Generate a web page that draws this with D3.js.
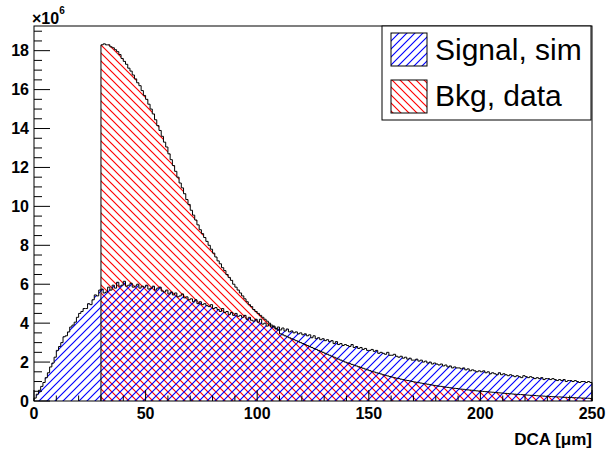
<!DOCTYPE html>
<html><head><meta charset="utf-8">
<script src="https://cdn.jsdelivr.net/npm/d3@7"></script>
<style>body{margin:0;background:#fff}svg{display:block}</style>
</head><body>
<svg id="c" width="608" height="455"></svg>
<script>
// DCA bins: 1 µm wide, 0..250 µm
const binLow = 0, binWidth = 1;
// Signal (sim), values in 1e6, bins 0..249
const signal = [
0.15,0.35,0.55,0.75,0.95,1.2,1.45,1.75,1.95,2.25,
2.6,2.8,3.0,3.3,3.35,3.55,3.8,3.9,4.05,4.3,
4.5,4.6,4.75,4.75,5.0,4.95,5.2,5.45,5.4,5.7,
5.75,5.55,5.6,5.85,5.7,5.95,5.8,6.1,5.9,5.95,
6.15,5.9,5.95,6.05,5.85,5.9,6.0,5.8,5.9,5.85,
5.95,5.75,5.8,5.9,5.7,5.8,5.85,5.65,5.6,5.7,
5.5,5.6,5.45,5.55,5.35,5.4,5.5,5.3,5.35,5.2,
5.25,5.1,5.2,5.0,5.1,4.95,5.0,4.9,4.85,4.95,
4.75,4.8,4.7,4.6,4.75,4.55,4.6,4.45,4.55,4.4,
4.5,4.35,4.4,4.3,4.4,4.2,4.3,4.15,4.1,4.2,
4.05,4.2,3.95,4.0,3.85,3.95,3.8,3.85,3.7,3.8,
3.65,3.75,3.6,3.7,3.55,3.6,3.5,3.55,3.45,3.5,
3.4,3.45,3.35,3.4,3.25,3.35,3.2,3.25,3.15,3.2,
3.1,3.15,3.05,3.1,2.95,3.05,2.9,2.95,2.85,2.9,
2.85,2.8,2.9,2.75,2.8,2.7,2.75,2.65,2.7,2.6,
2.6,2.65,2.55,2.6,2.45,2.5,2.45,2.4,2.5,2.35,
2.35,2.4,2.3,2.25,2.3,2.2,2.25,2.15,2.2,2.1,
2.1,2.15,2.05,2.1,2.0,2.05,1.95,2.0,1.9,1.95,
1.9,1.85,1.9,1.8,1.85,1.75,1.8,1.7,1.75,1.7,
1.7,1.65,1.7,1.6,1.65,1.55,1.6,1.55,1.5,1.55,
1.5,1.55,1.45,1.5,1.4,1.45,1.4,1.35,1.45,1.35,
1.4,1.35,1.3,1.35,1.3,1.25,1.3,1.25,1.2,1.3,
1.25,1.2,1.25,1.2,1.15,1.2,1.15,1.2,1.1,1.15,
1.15,1.1,1.15,1.1,1.05,1.1,1.05,1.1,1.0,1.05,
1.05,1.0,1.05,1.0,0.95,1.0,1.0,0.95,1.0,0.95
];
// Background (data), values in 1e6, bins 30..249
const bkgStart = 30;
const bkg = [
18.3,18.35,18.3,18.3,18.2,18.15,18.05,17.95,17.8,17.6,
17.45,17.3,17.1,16.95,16.75,16.55,16.35,16.2,15.95,15.7,
15.5,15.25,15.0,14.75,14.45,14.15,13.9,13.6,13.3,13.05,
12.7,12.4,12.1,11.8,11.5,11.2,10.95,10.65,10.35,10.1,
9.8,9.55,9.3,9.05,8.8,8.6,8.4,8.2,8.0,7.8,
7.6,7.4,7.2,7.05,6.85,6.7,6.5,6.35,6.2,6.0,
5.85,5.7,5.55,5.4,5.25,5.1,4.95,4.85,4.7,4.6,
4.5,4.4,4.3,4.2,4.1,4.0,3.9,3.8,3.72,3.64,
3.45,3.4,3.35,3.3,3.25,3.2,3.15,3.1,3.05,3.0,
2.95,2.9,2.85,2.8,2.75,2.7,2.65,2.6,2.55,2.5,
2.45,2.4,2.35,2.3,2.25,2.2,2.15,2.1,2.05,2.0,
1.96,1.92,1.88,1.84,1.8,1.76,1.72,1.68,1.64,1.6,
1.56,1.52,1.49,1.45,1.42,1.39,1.35,1.32,1.29,1.26,
1.23,1.2,1.17,1.15,1.12,1.1,1.07,1.05,1.03,1.0,
0.98,0.96,0.94,0.92,0.9,0.88,0.86,0.84,0.82,0.8,
0.78,0.76,0.75,0.73,0.71,0.7,0.68,0.67,0.65,0.64,
0.62,0.61,0.6,0.58,0.57,0.56,0.55,0.53,0.52,0.51,
0.5,0.49,0.48,0.47,0.46,0.45,0.44,0.43,0.42,0.41,
0.4,0.39,0.38,0.37,0.36,0.35,0.34,0.33,0.33,0.32,
0.31,0.3,0.29,0.29,0.28,0.27,0.26,0.26,0.25,0.24,
0.24,0.23,0.22,0.22,0.21,0.21,0.2,0.19,0.19,0.18,
0.18,0.17,0.17,0.16,0.16,0.15,0.15,0.14,0.14,0.13
];
const xTickValues = [0,50,100,150,200,250];
const yTickValues = [0,2,4,6,8,10,12,14,16,18];
const legendLabels = ["Signal, sim","Bkg, data"];
const xTitle = "DCA [\u03bcm]";
const yExponent = "6";

const svg = d3.select("#c");
const L = 34, R = 592, T = 26, B = 401;
const x = d3.scaleLinear().domain([0,250]).range([L,R]);
const yMax = d3.max(bkg)*1.05;
const y = d3.scaleLinear().domain([0,yMax]).range([B,T]);

const P = 8;
const defs = svg.append("defs");
function hatch(id, color, d){
  const p = defs.append("pattern").attr("id",id).attr("patternUnits","userSpaceOnUse")
    .attr("width",P).attr("height",P);
  p.append("path").attr("d",d).attr("stroke",color).attr("stroke-width",1.15).attr("fill","none");
}
hatch("hBlue","#0000ff",`M0,${P} L${P},0 M-2,2 L2,-2 M${P-2},${P+2} L${P+2},${P-2}`);
hatch("hRed","#ff0000",`M0,0 L${P},${P} M-2,${P-2} L2,${P+2} M${P-2},-2 L${P+2},2`);

function pts(vals, start){
  const a = [[start*binWidth+binLow,0]];
  vals.forEach((v,i)=>{
    const lo = binLow + (start+i)*binWidth;
    a.push([lo,v]); a.push([lo+binWidth,v]);
  });
  a.push([binLow+(start+vals.length)*binWidth,0]);
  return a;
}
const line = d3.line().x(d=>x(d[0])).y(d=>y(d[1]));
const bkgPts = pts(bkg,bkgStart), sigPts = pts(signal,0);

svg.append("path").attr("d",line(bkgPts)+"Z").attr("fill","url(#hRed)").attr("stroke","none");
svg.append("path").attr("d",line(sigPts)+"Z").attr("fill","url(#hBlue)").attr("stroke","none");
svg.append("path").attr("d",line(bkgPts)).attr("fill","none").attr("stroke","#000").attr("stroke-width",1);
svg.append("path").attr("d",line(sigPts)).attr("fill","none").attr("stroke","#000").attr("stroke-width",1);

// frame
svg.append("rect").attr("x",L).attr("y",T).attr("width",R-L).attr("height",B-T)
  .attr("fill","none").attr("stroke","#000").attr("stroke-width",1);

// axes
const font = "Liberation Sans, Arial, Helvetica, sans-serif";
const gx = svg.append("g").attr("transform",`translate(0,${B})`);
const xMinor = d3.range(0,251,10);
gx.selectAll("line.mi").data(xMinor).join("line")
  .attr("x1",d=>x(d)).attr("x2",d=>x(d)).attr("y1",0)
  .attr("y2",d=>xTickValues.includes(d)?-11:-5.5).attr("stroke","#000");
gx.selectAll("text").data(xTickValues).join("text")
  .attr("x",d=>x(d)).attr("y",18).attr("text-anchor","middle")
  .attr("font-family",font).attr("font-weight","bold").attr("font-size",16).text(d=>d);

const gy = svg.append("g").attr("transform",`translate(${L},0)`);
const yMinor = d3.range(0,19.01,0.5);
gy.selectAll("line").data(yMinor).join("line")
  .attr("y1",d=>y(d)).attr("y2",d=>y(d)).attr("x1",0)
  .attr("x2",d=>(d%2===0)?16:8).attr("stroke","#000");
gy.selectAll("text").data(yTickValues).join("text")
  .attr("x",-5).attr("y",d=>y(d)+5.8).attr("text-anchor","end")
  .attr("font-family",font).attr("font-weight","bold").attr("font-size",16).text(d=>d);

const ex = svg.append("text").attr("x",32).attr("y",24).attr("font-family",font)
  .attr("font-weight","bold").attr("font-size",16);
ex.append("tspan").text("\u00d710");
ex.append("tspan").attr("dy",-10).attr("font-size",10).text(yExponent);

svg.append("text").attr("x",R).attr("y",445).attr("text-anchor","end")
  .attr("font-family",font).attr("font-weight","bold").attr("font-size",17).text(xTitle);

// legend
const lg = svg.append("g");
lg.append("rect").attr("x",382).attr("y",T).attr("width",209).attr("height",94)
  .attr("fill","#fff").attr("stroke","#000");
const fills = ["url(#hBlue)","url(#hRed)"];
legendLabels.forEach((lab,i)=>{
  const yy = 33 + i*47;
  lg.append("rect").attr("x",391).attr("y",yy).attr("width",36).attr("height",33)
    .attr("fill",fills[i]).attr("stroke","#000");
  lg.append("text").attr("x",435).attr("y",60+i*46).attr("font-family",font)
    .attr("font-size",30).text(lab);
});
</script>
</body></html>
